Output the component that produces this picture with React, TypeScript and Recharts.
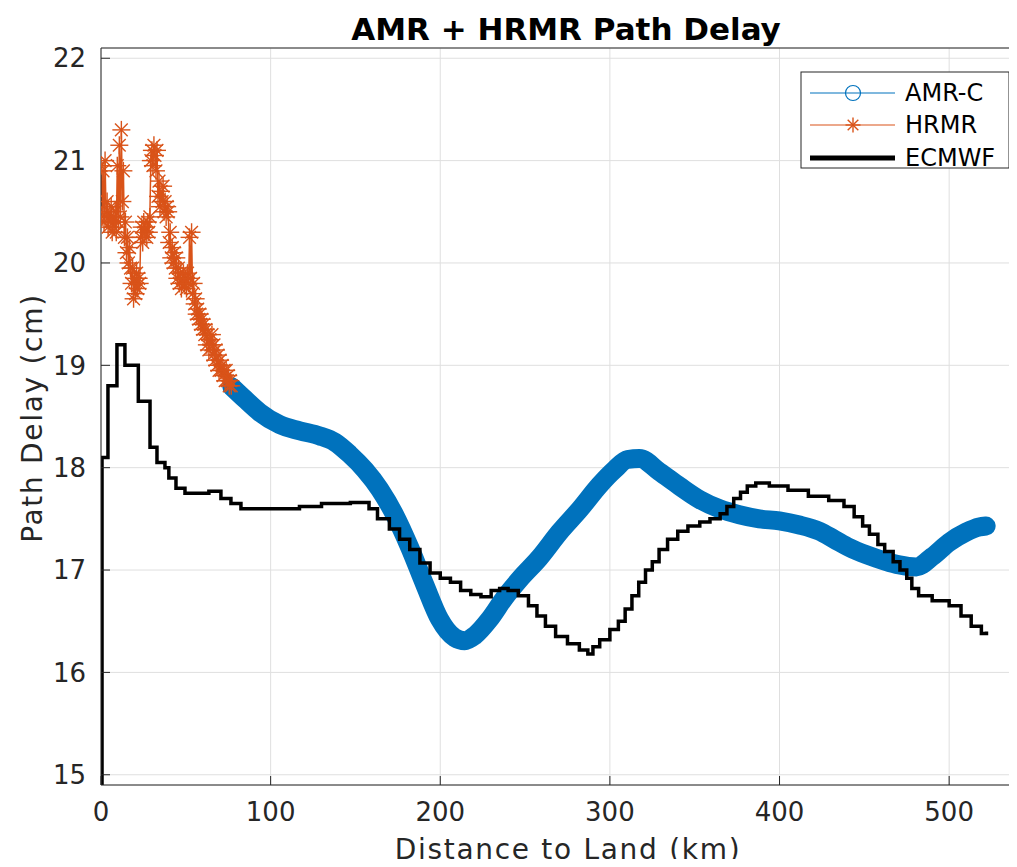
import { LineChart, Line, XAxis, YAxis, CartesianGrid, ReferenceLine } from "recharts";

// AMR-C (km from land, path delay cm)
const amrKm = [77.1, 84.8, 93.6, 105.4, 117.2, 129.0, 137.8, 146.6, 155.5, 164.3, 173.1, 182.0, 190.8, 199.6, 208.5, 214.4, 220.3, 229.1, 237.9, 246.8, 258.5, 270.3, 282.1, 293.9, 302.7, 310.4, 317.4, 329.2, 341.0, 352.8, 364.5, 376.3, 388.1, 399.9, 411.7, 423.4, 432.3, 441.1, 451.1, 461.7, 470.6, 480.6, 490.0, 500.0, 510.0, 517.7, 521.8];
const amrCm = [18.79, 18.67, 18.54, 18.42, 18.36, 18.31, 18.25, 18.13, 17.98, 17.79, 17.54, 17.22, 16.86, 16.52, 16.34, 16.31, 16.36, 16.52, 16.73, 16.91, 17.12, 17.37, 17.59, 17.83, 17.98, 18.08, 18.09, 17.96, 17.82, 17.69, 17.6, 17.54, 17.5, 17.48, 17.44, 17.38, 17.3, 17.22, 17.15, 17.09, 17.05, 17.03, 17.13, 17.27, 17.37, 17.42, 17.43];

// HRMR
const hrmrKm = [0.0, 0.6, 1.2, 1.8, 2.4, 3.0, 3.6, 4.2, 4.8, 5.4, 6.0, 6.6, 7.2, 7.8, 8.4, 9.0, 9.6, 10.2, 10.8, 11.4, 12.0, 12.6, 13.2, 13.8, 14.4, 15.0, 15.6, 16.2, 16.8, 17.4, 18.0, 18.6, 19.2, 19.8, 20.4, 21.0, 21.6, 22.2, 22.8, 23.4, 24.0, 24.6, 25.2, 25.8, 26.4, 27.0, 27.6, 28.2, 28.8, 29.4, 30.0, 30.6, 31.2, 31.8, 32.4, 33.0, 33.6, 34.2, 34.8, 35.4, 36.0, 36.6, 37.2, 37.8, 38.4, 39.0, 39.6, 40.2, 40.8, 41.4, 42.0, 42.6, 43.2, 43.8, 44.4, 45.0, 45.6, 46.2, 46.8, 47.4, 48.0, 48.6, 49.2, 49.8, 50.4, 51.0, 51.6, 52.2, 52.8, 53.4, 54.0, 54.6, 55.2, 55.8, 56.4, 57.0, 57.6, 58.2, 58.8, 59.4, 60.0, 60.6, 61.2, 61.8, 62.4, 63.0, 63.6, 64.2, 64.8, 65.4, 66.0, 66.6, 67.2, 67.8, 68.4, 69.0, 69.6, 70.2, 70.8, 71.4, 72.0, 72.6, 73.2, 73.8, 74.4, 75.0, 75.6, 76.2, 76.8];
const hrmrCm = [20.95, 20.45, 20.9, 20.4, 21.0, 20.45, 20.6, 20.35, 20.5, 20.4, 20.55, 20.3, 20.45, 20.35, 20.5, 20.3, 20.95, 20.4, 21.15, 20.45, 21.3, 20.6, 20.9, 20.25, 20.4, 20.1, 20.25, 20.0, 20.15, 19.95, 19.8, 19.95, 19.65, 19.85, 19.7, 19.9, 19.75, 19.85, 19.8, 20.25, 20.35, 20.2, 20.4, 20.3, 20.35, 20.25, 20.4, 20.3, 20.45, 21.0, 21.1, 20.95, 21.15, 21.05, 20.9, 21.1, 20.65, 20.8, 20.55, 20.7, 20.6, 20.75, 20.5, 20.6, 20.45, 20.55, 20.5, 20.2, 20.3, 20.05, 20.15, 20.0, 20.1, 19.95, 20.05, 19.85, 19.95, 19.8, 19.9, 19.75, 19.85, 19.9, 19.8, 19.85, 19.75, 19.9, 19.8, 20.25, 19.85, 20.3, 19.7, 19.8, 19.6, 19.65, 19.5, 19.55, 19.45, 19.5, 19.4, 19.45, 19.35, 19.4, 19.3, 19.35, 19.2, 19.3, 19.15, 19.25, 19.2, 19.3, 19.1, 19.2, 19.05, 19.15, 19.0, 19.1, 18.95, 19.05, 18.95, 19.0, 18.9, 18.95, 18.85, 18.95, 18.85, 18.9, 18.8, 18.85, 18.8];

// ECMWF (stairs)
const ecmwfKm = [0, 0.6, 4.1, 9.4, 14.1, 22.0, 28.9, 33.0, 37.7, 40.0, 44.2, 49.5, 63.6, 70.7, 76.6, 82.5, 100, 117, 130, 147, 158, 163, 170, 176, 182, 188, 194, 200, 206, 212, 218, 224, 230, 235, 240, 246, 252, 257, 262, 268, 275, 282, 287, 290, 294, 300, 305, 309, 313, 317, 321, 325, 329, 334, 340, 346, 353, 359, 365, 369, 373, 377, 381, 386, 394, 405, 417, 429, 438, 444, 449, 453, 458, 462, 467, 471, 475, 478, 482, 490, 500, 507, 513, 519, 522];
const ecmwfCm = [14.5, 18.1, 18.8, 19.2, 19.0, 18.65, 18.2, 18.05, 18.0, 17.9, 17.8, 17.75, 17.77, 17.7, 17.65, 17.6, 17.6, 17.62, 17.65, 17.66, 17.6, 17.5, 17.4, 17.3, 17.2, 17.07, 16.97, 16.92, 16.88, 16.8, 16.76, 16.74, 16.8, 16.82, 16.8, 16.75, 16.65, 16.55, 16.45, 16.35, 16.28, 16.22, 16.18, 16.25, 16.32, 16.42, 16.5, 16.62, 16.75, 16.88, 17.0, 17.08, 17.2, 17.3, 17.38, 17.43, 17.47, 17.5, 17.55, 17.62, 17.7, 17.76, 17.82, 17.85, 17.82, 17.78, 17.72, 17.68, 17.62, 17.52, 17.43, 17.35, 17.25, 17.18, 17.08, 17.0, 16.92, 16.82, 16.75, 16.7, 16.65, 16.55, 16.45, 16.38, 16.4];

const xTicks = [0, 100, 200, 300, 400, 500];
const yTicks = [15, 16, 17, 18, 19, 20, 21, 22];
const yTop = 22.1;

const amrData = amrKm.map((x, i) => ({ x, amr: amrCm[i] }));
const hrmrData = hrmrKm.map((x, i) => ({ x, hrmr: hrmrCm[i] }));
const ecmwfData = ecmwfKm.map((x, i) => ({ x, ecmwf: ecmwfCm[i] }));

const BLUE = "#0072BD";
const ORANGE = "#D95319";
const AXIS = "#262626";
const FONT = "'DejaVu Sans', sans-serif";

const star = (cx: number, cy: number, r: number, key?: any) => {
  const d = r * 0.707;
  return (
    <g key={key} stroke={ORANGE} strokeWidth={1.4}>
      <line x1={cx - r} y1={cy} x2={cx + r} y2={cy} />
      <line x1={cx} y1={cy - r} x2={cx} y2={cy + r} />
      <line x1={cx - d} y1={cy - d} x2={cx + d} y2={cy + d} />
      <line x1={cx - d} y1={cy + d} x2={cx + d} y2={cy - d} />
    </g>
  );
};

const AsteriskDot = (props: any) => {
  const { cx, cy, index } = props;
  if (cx == null || cy == null) return <g key={index} />;
  return star(cx, cy, 9, index);
};

export default function App() {
  const tickStyle = { fontSize: 26, fill: AXIS, fontFamily: FONT };
  return (
    <div style={{ position: "relative", width: 1009, height: 851 }}>
      <LineChart width={1009} height={851} margin={{ top: 40, right: 0, bottom: 14, left: 0 }}>
        <CartesianGrid stroke="#dfdfdf" strokeWidth={1} />
        <XAxis
          type="number"
          dataKey="x"
          domain={[0, 540]}
          ticks={xTicks}
          allowDataOverflow
          height={60}
          tickSize={-9}
          tickMargin={27}
          tick={tickStyle}
          axisLine={{ stroke: AXIS }}
          tickLine={{ stroke: AXIS }}
        />
        <YAxis
          type="number"
          domain={[14.9, yTop]}
          ticks={yTicks}
          allowDataOverflow
          width={93}
          tickSize={-9}
          tickMargin={24}
          tick={tickStyle}
          axisLine={{ stroke: AXIS }}
          tickLine={{ stroke: AXIS }}
        />
        <ReferenceLine y={yTop} stroke={AXIS} strokeWidth={1} ifOverflow="visible" />
        <Line
          data={amrData}
          dataKey="amr"
          type="monotone"
          stroke={BLUE}
          strokeWidth={19}
          strokeLinecap="round"
          strokeLinejoin="round"
          dot={false}
          isAnimationActive={false}
        />
        <Line
          data={hrmrData}
          dataKey="hrmr"
          type="linear"
          stroke={ORANGE}
          strokeWidth={1.5}
          dot={AsteriskDot}
          isAnimationActive={false}
        />
        <Line
          data={ecmwfData}
          dataKey="ecmwf"
          type="stepAfter"
          stroke="#000"
          strokeWidth={3.5}
          dot={false}
          isAnimationActive={false}
        />
      </LineChart>
      <svg
        width={1009}
        height={859}
        style={{ position: "absolute", left: 0, top: 0, pointerEvents: "none", overflow: "visible" }}
      >
        <text x={558} y={32} textAnchor="middle" fontFamily={FONT} fontWeight="bold" fontSize={31} fill="#000">
          AMR + HRMR Path Delay
        </text>
        <text x={560} y={851} textAnchor="middle" fontFamily={FONT} fontSize={28} letterSpacing={1.7} fill={AXIS}>
          Distance to Land (km)
        </text>
        <text
          x={34}
          y={410}
          textAnchor="middle"
          fontFamily={FONT}
          fontSize={28}
          letterSpacing={1.7}
          fill={AXIS}
          transform="rotate(-90, 34, 410)"
        >
          Path Delay (cm)
        </text>
        <g>
          <rect x={793} y={64} width={208} height={96} fill="#fff" stroke={AXIS} strokeWidth={1} />
          <line x1={802} y1={85} x2={887} y2={85} stroke={BLUE} strokeWidth={1.2} />
          <circle cx={845} cy={85} r={7.5} fill="none" stroke={BLUE} strokeWidth={1.2} />
          <text x={897} y={85} dominantBaseline="central" fontFamily={FONT} fontSize={24} fill="#000">AMR-C</text>
          <line x1={802} y1={117} x2={887} y2={117} stroke={ORANGE} strokeWidth={1.2} />
          {star(845, 117, 7.5)}
          <text x={897} y={117} dominantBaseline="central" fontFamily={FONT} fontSize={24} fill="#000">HRMR</text>
          <line x1={802} y1={150} x2={887} y2={150} stroke="#000" strokeWidth={5} />
          <text x={897} y={150} dominantBaseline="central" fontFamily={FONT} fontSize={24} fill="#000">ECMWF</text>
        </g>
      </svg>
    </div>
  );
}
